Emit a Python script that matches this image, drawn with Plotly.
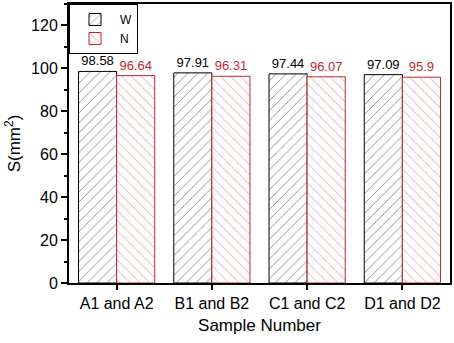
import plotly.graph_objects as go

samples = ["A1 and A2", "B1 and B2", "C1 and C2", "D1 and D2"]
w_vals = [98.58, 97.91, 97.44, 97.09]
n_vals = [96.64, 96.31, 96.07, 95.9]
w_text = ["98.58", "97.91", "97.44", "97.09"]
n_text = ["96.64", "96.31", "96.07", "95.9"]

red = "#c0282d"

fig = go.Figure()
fig.add_trace(go.Bar(
    x=samples, y=w_vals, name="W", text=w_text, textposition="outside",
    textfont=dict(color="black", size=13),
    marker=dict(color="white", line=dict(color="black", width=1),
                pattern=dict(shape="/", fgcolor="black", bgcolor="white", size=7, solidity=0.12)),
    cliponaxis=False,
))
fig.add_trace(go.Bar(
    x=samples, y=n_vals, name="N", text=n_text, textposition="outside",
    textfont=dict(color=red, size=13),
    marker=dict(color="white", line=dict(color=red, width=1),
                pattern=dict(shape="\\", fgcolor=red, bgcolor="white", size=7, solidity=0.12)),
    cliponaxis=False,
))

fig.update_layout(
    width=454, height=343,
    margin=dict(l=69, r=2, t=3, b=60),
    paper_bgcolor="white", plot_bgcolor="white",
    font=dict(family="Liberation Sans, Arial", color="black"),
    barmode="group", bargap=0.2, bargroupgap=0,
    showlegend=True,
    legend=dict(x=0.0, y=1.0, xanchor="left", yanchor="top",
                bordercolor="black", borderwidth=1, bgcolor="white",
                font=dict(size=12), tracegroupgap=0, itemwidth=40),
)
fig.update_xaxes(
    range=[-0.5, 3.5], showline=True, linecolor="black", linewidth=2, mirror=True,
    ticks="outside", ticklen=5, tickwidth=2, tickcolor="black",
    minor=dict(ticks="outside", ticklen=3, tickwidth=2, tickcolor="black"),
    tickfont=dict(size=16),
    title=dict(text="Sample Number", font=dict(size=17), standoff=8),
)
fig.update_yaxes(
    range=[0, 130], dtick=20, showline=True, linecolor="black", linewidth=2, mirror=True,
    ticks="outside", ticklen=6, tickwidth=2, tickcolor="black",
    minor=dict(ticks="outside", ticklen=3, tickwidth=2, tickcolor="black", dtick=10),
    showgrid=False, zeroline=False,
    tickfont=dict(size=16),
    title=dict(text="S(mm<sup>2</sup>)", font=dict(size=17), standoff=6),
)

fig.write_html("out.html", config={"displayModeBar": False},
               post_script="document.body.style.margin='0';")
